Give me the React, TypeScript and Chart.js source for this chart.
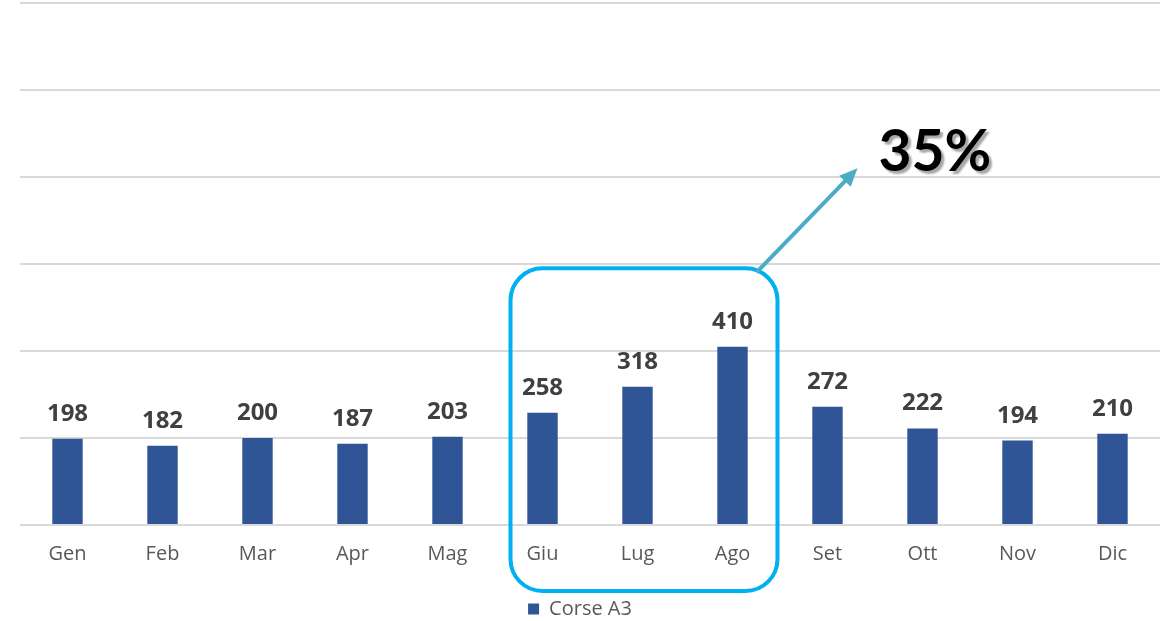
import React, { useEffect, useRef } from "react";
import { Chart, registerables } from "chart.js";

Chart.register(...registerables);

const months = ["Gen", "Feb", "Mar", "Apr", "Mag", "Giu", "Lug", "Ago", "Set", "Ott", "Nov", "Dic"];
const corseA3 = [198, 182, 200, 187, 203, 258, 318, 410, 272, 222, 194, 210];
const seriesName = "Corse A3";
const yTicks = [0, 200, 400, 600, 800, 1000, 1200];
const highlightFrom = 5; // Giu
const highlightTo = 7; // Ago
const calloutText = "35%";

const annotationPlugin = {
  id: "annotations",
  afterDatasetsDraw(chart: any) {
    const ctx = chart.ctx;
    const meta = chart.getDatasetMeta(0);
    ctx.save();
    ctx.font = "bold 24px 'Open Sans', sans-serif";
    ctx.fillStyle = "#404040";
    ctx.textAlign = "center";
    ctx.textBaseline = "alphabetic";
    meta.data.forEach((bar: any, i: number) => {
      ctx.fillText(String(corseA3[i]), bar.x, bar.y - 18);
    });
    ctx.restore();
  },
  afterDraw(chart: any) {
    const ctx = chart.ctx;
    const x = chart.scales.x;
    const y = chart.scales.y;
    const left = x.getPixelForValue(highlightFrom) - 32;
    const right = x.getPixelForValue(highlightTo) + 45;
    const top = y.getPixelForValue(590);
    const bottom = chart.chartArea.bottom + 66;
    ctx.save();
    ctx.strokeStyle = "#00b0f0";
    ctx.lineWidth = 4;
    ctx.beginPath();
    ctx.roundRect(left, top, right - left, bottom - top, 32);
    ctx.stroke();

    // arrow
    const x0 = right - 21;
    const y0 = top + 4;
    const x1 = right + 80;
    const y1 = top - 100;
    const ang = Math.atan2(y1 - y0, x1 - x0);
    const headLen = 18;
    const headW = 8;
    ctx.strokeStyle = "#4bacc6";
    ctx.fillStyle = "#4bacc6";
    ctx.lineWidth = 4;
    ctx.beginPath();
    ctx.moveTo(x0, y0);
    ctx.lineTo(x1 - Math.cos(ang) * headLen * 0.8, y1 - Math.sin(ang) * headLen * 0.8);
    ctx.stroke();
    ctx.beginPath();
    ctx.moveTo(x1, y1);
    const bx = x1 - Math.cos(ang) * headLen;
    const by = y1 - Math.sin(ang) * headLen;
    ctx.lineTo(bx + Math.sin(ang) * headW, by - Math.cos(ang) * headW);
    ctx.lineTo(bx - Math.sin(ang) * headW, by + Math.cos(ang) * headW);
    ctx.closePath();
    ctx.fill();

    // callout text
    ctx.font = "bold 57px Lato, sans-serif";
    ctx.textAlign = "left";
    ctx.textBaseline = "alphabetic";
    ctx.shadowColor = "rgba(0,0,0,0.35)";
    ctx.shadowOffsetX = 3;
    ctx.shadowOffsetY = 3;
    ctx.shadowBlur = 2;
    ctx.fillStyle = "#000000";
    ctx.fillText(calloutText, right + 101, top - 97);
    ctx.restore();
  },
};

export default function App() {
  const ref = useRef<HTMLCanvasElement>(null);
  useEffect(() => {
    if (!ref.current) return;
    const chart = new Chart(ref.current, {
      type: "bar",
      data: {
        labels: months,
        datasets: [
          {
            label: seriesName,
            data: corseA3,
            backgroundColor: "#2f5597",
            categoryPercentage: 1,
            barPercentage: 0.32,
          },
        ],
      },
      options: {
        responsive: false,
        animation: false,
        layout: { padding: { left: 0, right: 8, top: 3, bottom: -8 } },
        plugins: {
          tooltip: { enabled: false },
          legend: {
            position: "bottom",
            labels: {
              boxWidth: 11,
              boxHeight: 11,
              padding: 4,
              color: "#595959",
              font: { family: "'Open Sans', sans-serif", size: 20 },
            },
          },
        },
        scales: {
          x: {
            grid: { display: false, drawTicks: false },
            border: { display: false },
            ticks: {
              color: "#595959",
              font: { family: "'Open Sans', sans-serif", size: 20 },
              padding: 17,
              maxRotation: 0,
            },
            afterFit(scale: any) {
              scale.height = 70;
            },
          },
          y: {
            min: yTicks[0],
            max: yTicks[yTicks.length - 1],
            afterBuildTicks(scale: any) {
              scale.ticks = yTicks.map((v) => ({ value: v }));
            },
            afterFit(scale: any) {
              scale.width = 20;
            },
            ticks: { display: false },
            grid: { color: "#d9d9d9", lineWidth: 2, drawTicks: false },
            border: { display: false },
          },
        },
      },
      plugins: [annotationPlugin],
    });
    return () => chart.destroy();
  }, []);
  return (
    <div style={{ position: "absolute", left: 0, top: 0, width: 1168, height: 621, background: "#fff" }}>
      <canvas ref={ref} width={1168} height={621} style={{ display: "block" }} />
    </div>
  );
}
